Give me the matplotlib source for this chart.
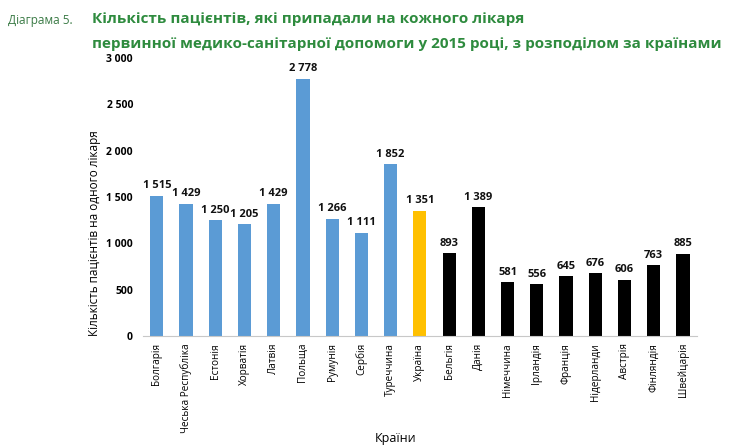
import numpy as np
from matplotlib import pyplot as plt

countries = ['Болгарія', 'Чеська Республіка', 'Естонія', 'Хорватія', 'Латвія',
             'Польща', 'Румунія', 'Сербія', 'Туреччина', 'Україна',
             'Бельгія', 'Данія', 'Німеччина', 'Ірландія', 'Франція',
             'Нідерланди', 'Австрія', 'Фінляндія', 'Швейцарія']
patients = [1515, 1429, 1250, 1205, 1429, 2778, 1266, 1111, 1852, 1351,
            893, 1389, 581, 556, 645, 676, 606, 763, 885]
groups = ['east'] * 9 + ['ukraine'] + ['west'] * 9
palette = {'east': '#5b9bd5', 'ukraine': '#ffc000', 'west': '#000000'}
yticks = [0, 500, 1000, 1500, 2000, 2500, 3000]

plt.rcParams['font.family'] = ['Open Sans', 'DejaVu Sans']

fig = plt.figure(figsize=(7.36, 4.46), dpi=100)
ax = fig.add_axes([0.194, 0.2466, 0.753, 0.6234])

x = np.arange(len(countries))
colors = [palette[g] for g in groups]
bars = ax.bar(x, patients, width=0.45, color=colors)

def fmt(v):
    return f'{v:,}'.replace(',', ' ')

for xi, v in zip(x, patients):
    ax.text(xi, v + 50, fmt(v), ha='center', va='bottom', fontsize=8,
            fontweight='bold', color='#111111')

ax.set_ylim(0, 3000)
ax.set_xlim(-0.48, len(countries) - 0.52)
ax.set_yticks(yticks)
ax.set_yticklabels([fmt(t) for t in yticks], fontsize=7.5, fontweight='bold')
ax.set_xticks(x)
ax.set_xticklabels(countries, rotation=90, fontsize=7.2)
ax.tick_params(axis='both', length=0)
ax.tick_params(axis='x', pad=5)
ax.tick_params(axis='y', pad=7)

for s in ['top', 'right', 'left']:
    ax.spines[s].set_visible(False)
ax.spines['bottom'].set_color('#c8c8c8')

ax.set_ylabel('Кількість пацієнтів на одного лікаря', fontsize=8.5)
ax.yaxis.set_label_coords(-0.076, 0.37)
ax.set_xlabel('Країни', fontsize=9)
ax.xaxis.set_label_coords(0.457, -0.345)

fig.text(0.011, 0.955, 'Діаграма 5.', fontsize=8.5, color='#3a7a45', va='center')
fig.text(0.125, 0.958, 'Кількість пацієнтів, які припадали на кожного лікаря',
         fontsize=11, fontweight='bold', color='#2e8b3e', va='center')
fig.text(0.125, 0.902,
         'первинної медико-санітарної допомоги у 2015 році, з розподілом за країнами',
         fontsize=11, fontweight='bold', color='#2e8b3e', va='center')

fig.savefig('out.png', dpi=100)
